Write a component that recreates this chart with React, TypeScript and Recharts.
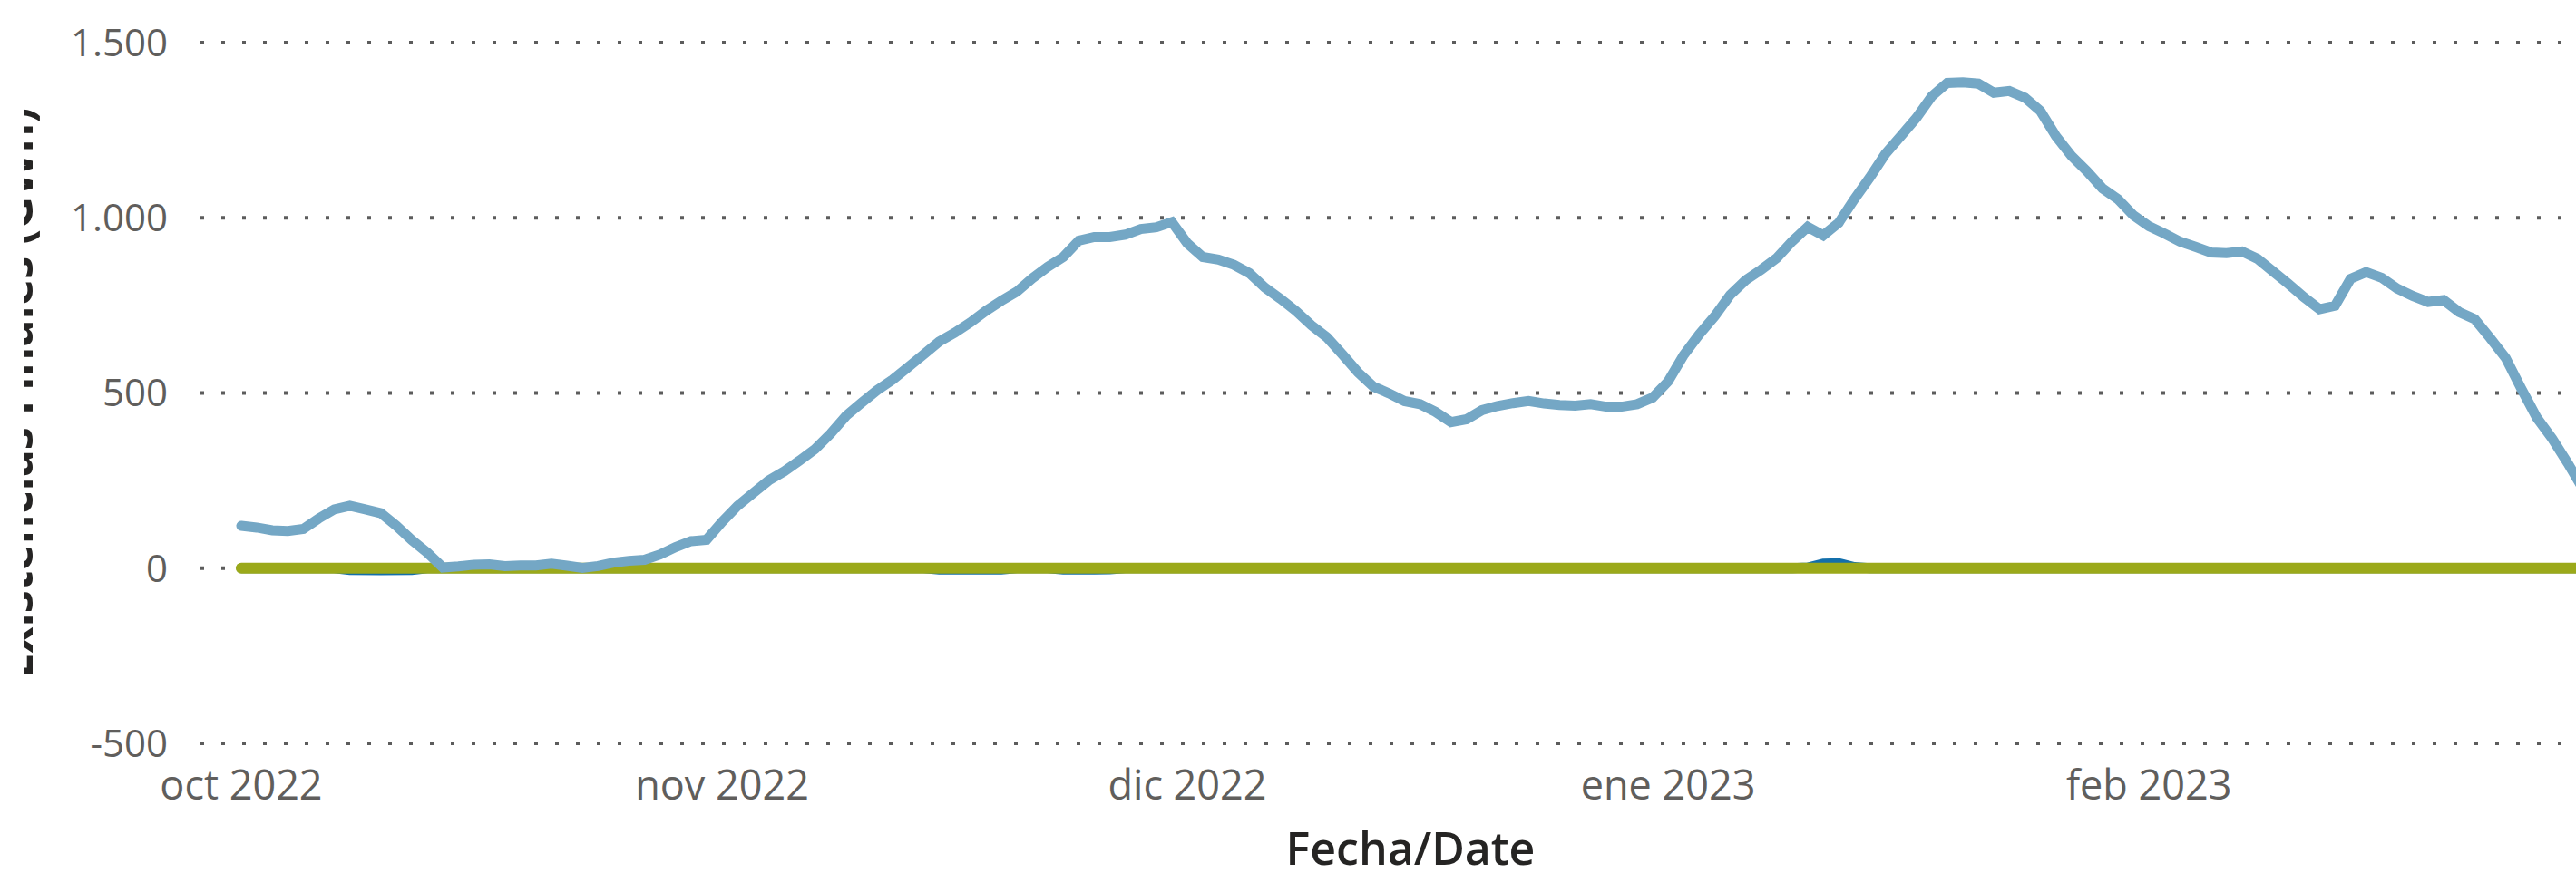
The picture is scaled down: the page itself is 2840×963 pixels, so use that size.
import { LineChart, Line, XAxis, YAxis, CartesianGrid, Label } from 'recharts'

// day 0 = 1 oct 2022, one value per day
const STOCK_GWH = [
  121, 116, 108, 106, 112, 142, 168, 178, 168, 157,
  121, 80, 44, 2, 5, 10, 11, 6, 8, 8,
  13, 7, 1, 6, 16, 21, 24, 39, 60, 77,
  81, 132, 178, 214, 250, 276, 307, 340, 384, 435,
  472, 508, 538, 574, 610, 647, 672, 701, 734, 763,
  789, 827, 860, 888, 935, 945, 945, 952, 968, 973,
  988, 927, 888, 881, 866, 842, 801, 769, 734, 693,
  659, 610, 559, 518, 499, 477, 468, 446, 417, 425,
  451, 463, 471, 477, 470, 466, 464, 468, 461, 461,
  468, 487, 533, 608, 667, 719, 780, 822, 852, 885,
  933, 974, 950, 986, 1053, 1115, 1182, 1233, 1285, 1347,
  1385, 1387, 1383, 1357, 1362, 1343, 1305, 1233, 1177, 1133,
  1084, 1053, 1007, 976, 955, 932, 917, 901, 899, 904,
  883, 847, 811, 773, 739, 749, 826, 845, 829, 798,
  777, 760, 765, 731, 711, 657, 600, 513, 430, 370,
  300, 225,
]

// second series, almost always at zero
const DARK_DAYS = [0, 6, 7, 9, 11, 12, 44, 45, 47, 49, 50, 52, 53, 55, 56, 57, 100, 101, 102, 103, 104, 105, 151]
const DARK_GWH = [0, 0, -5, -6, -5, 0, 0, -4, -4, -4, 0, 0, -4, -4, -3, 0, 0, 2, 13, 14, 3, 0, 0]

// third series, flat at zero
const GREEN_DAYS = [0, 151]
const GREEN_GWH = [0, 0]

const MONTH_DAYS = [0, 31, 61, 92, 123]
const MONTH_LABELS = ['oct 2022', 'nov 2022', 'dic 2022', 'ene 2023', 'feb 2023']

const Y_TICKS = [-500, 0, 500, 1000, 1500]

const stockData = STOCK_GWH.map((v, i) => ({ day: i, value: v }))
const darkData = DARK_DAYS.map((d, i) => ({ day: d, value: DARK_GWH[i] }))
const greenData = GREEN_DAYS.map((d, i) => ({ day: d, value: GREEN_GWH[i] }))

const FONT = "'Open Sans', 'Noto Sans', sans-serif"

const fmtThousands = (v: number) => String(v).replace(/\B(?=(\d{3})+(?!\d))/g, '.')
const fmtMonth = (v: number) => {
  const i = MONTH_DAYS.indexOf(v)
  return i >= 0 ? MONTH_LABELS[i] : ''
}

function YTitle(props: any) {
  const vb = props.viewBox ?? { x: 0, y: 47, width: 221, height: 773 }
  const cx = vb.x + 36
  const cy = vb.y + vb.height / 2
  return (
    <g>
      <defs>
        <clipPath id="ytitle-clip">
          <rect x={vb.x + 26} y={0} width={80} height={963} />
        </clipPath>
      </defs>
      <g clipPath="url(#ytitle-clip)">
        <text
          x={cx}
          y={cy}
          transform={`rotate(-90, ${cx}, ${cy})`}
          textAnchor="middle"
          fill="#252423"
          fontSize={50}
          fontWeight={700}
          fontFamily={FONT}
        >
          Existencias Finales (GWh)
        </text>
      </g>
    </g>
  )
}

export default function App() {
  return (
    <div
      style={{
        position: 'absolute',
        left: 0,
        top: 0,
        width: 2840,
        height: 963,
        overflow: 'hidden',
        background: '#fff',
      }}
    >
      <LineChart width={2900} height={963} margin={{ top: 47, right: 11, bottom: 3, left: 0 }}>
        <CartesianGrid
          horizontal
          vertical={false}
          stroke="#5c5c5c"
          strokeWidth={4}
          strokeDasharray="4 19"
        />
        <XAxis
          dataKey="day"
          type="number"
          domain={[-2.63, 153.4]}
          allowDataOverflow
          ticks={MONTH_DAYS}
          tickFormatter={fmtMonth}
          axisLine={false}
          tickLine={false}
          tickSize={0}
          tickMargin={30}
          height={140}
          tick={{ fill: '#605E5C', fontSize: 45, fontFamily: FONT }}
          interval={0}
        >
          <Label
            value="Fecha/Date"
            position="insideBottom"
            offset={6}
            fill="#252423"
            fontSize={50}
            fontWeight={600}
            fontFamily={FONT}
          />
        </XAxis>
        <YAxis
          type="number"
          domain={[-500, 1500]}
          ticks={Y_TICKS}
          allowDataOverflow
          tickFormatter={fmtThousands}
          axisLine={false}
          tickLine={false}
          tickSize={0}
          tickMargin={36}
          width={221}
          tick={{ fill: '#605E5C', fontSize: 42, fontFamily: FONT }}
          interval={0}
        >
          <Label content={YTitle} />
        </YAxis>
        <Line
          data={darkData}
          dataKey="value"
          type="linear"
          stroke="#136FAB"
          strokeWidth={11}
          strokeLinecap="round"
          dot={false}
          activeDot={false}
          isAnimationActive={false}
        />
        <Line
          data={greenData}
          dataKey="value"
          type="linear"
          stroke="#9BA91A"
          strokeWidth={12}
          strokeLinecap="round"
          dot={false}
          activeDot={false}
          isAnimationActive={false}
        />
        <Line
          data={stockData}
          dataKey="value"
          type="linear"
          stroke="#74A7C5"
          strokeWidth={11}
          strokeLinecap="round"
          strokeLinejoin="miter"
          dot={false}
          activeDot={false}
          isAnimationActive={false}
        />
      </LineChart>
    </div>
  )
}
